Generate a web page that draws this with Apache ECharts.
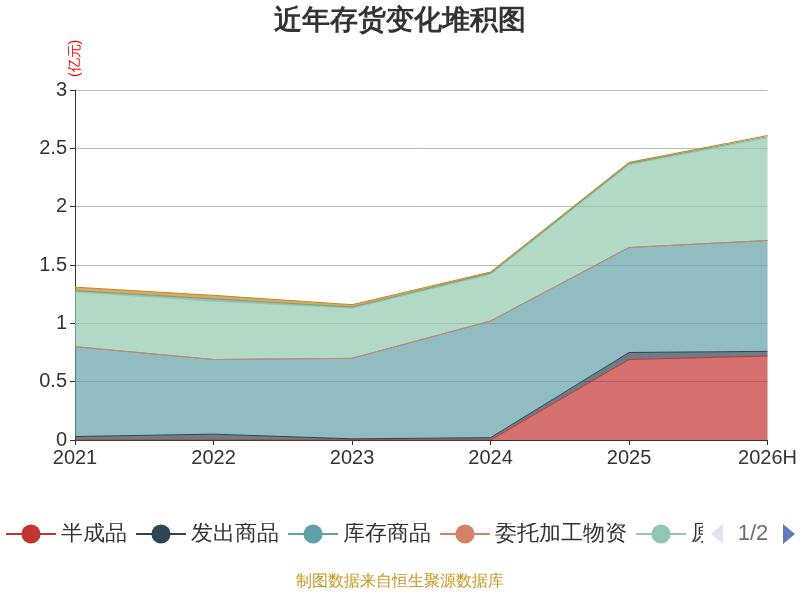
<!DOCTYPE html>
<html><head><meta charset="utf-8">
<script src="https://cdn.jsdelivr.net/npm/echarts@6/dist/echarts.min.js"></script>
<style>html,body{margin:0;padding:0}#main{width:800px;height:600px}</style>
</head><body><div id="main"></div>
<script>
var years = ['2021', '2022', '2023', '2024', '2025', '2026H'];
var seriesNames = ['半成品', '发出商品', '库存商品', '委托加工物资', '原材料', '在产品', '周转材料'];
var banChengPin = [0, 0, 0, 0, 0.69, 0.72];
var faChuShangPin = [0.03, 0.05, 0.01, 0.02, 0.06, 0.04];
var kuCunShangPin = [0.77, 0.64, 0.69, 1.0, 0.90, 0.95];
var weiTuoJiaGong = [0, 0, 0, 0, 0, 0];
var yuanCaiLiao = [0.47, 0.50, 0.43, 0.40, 0.71, 0.88];
var zaiChanPin = [0.01, 0.02, 0.01, 0.01, 0.01, 0.01];
var zhouZhuan = [0.03, 0.03, 0.02, 0.01, 0.01, 0.01];
var allData = [banChengPin, faChuShangPin, kuCunShangPin, weiTuoJiaGong, yuanCaiLiao, zaiChanPin, zhouZhuan];
var colors = ['#c23531', '#2f4554', '#61a0a8', '#d48265', '#91c7ae', '#749f83', '#ca8622'];

var myChart = echarts.init(document.getElementById('main'));
var series = [];
for (var i = 0; i < seriesNames.length; i++) {
    series.push({
        name: seriesNames[i],
        type: 'line',
        stack: 'total',
        symbol: 'none',
        data: allData[i],
        lineStyle: { width: 1 },
        areaStyle: { opacity: 0.7 }
    });
}
var option = {
    color: colors,
    title: {
        text: '近年存货变化堆积图',
        left: 'center',
        top: 2,
        textStyle: { fontSize: 28, fontWeight: 'bold', color: '#333' }
    },
    legend: {
        type: 'scroll',
        bottom: 50,
        left: 0,
        right: 0,
        itemWidth: 50,
        itemHeight: 24,
        textStyle: { fontSize: 22, color: '#333' },
        pageTextStyle: { fontSize: 22 },
        pageIconSize: 20,
        data: seriesNames
    },
    grid: { left: 75, right: 32, top: 90, bottom: 160 },
    xAxis: {
        type: 'category',
        boundaryGap: false,
        data: years,
        axisLabel: { fontSize: 20, color: '#333' },
        axisLine: { lineStyle: { color: '#333' } }
    },
    yAxis: {
        type: 'value',
        min: 0, max: 3, interval: 0.5,
        name: '(亿元)',
        nameLocation: 'end',
        nameRotate: 90,
        nameGap: 10,
        nameTextStyle: { color: 'red', fontSize: 14, padding: [0, 0, -70, 0] },
        axisLine: { show: true, lineStyle: { color: '#333' } },
        axisTick: { show: true },
        axisLabel: { fontSize: 20, color: '#333' },
        splitLine: { lineStyle: { color: '#bbb' } }
    },
    graphic: [{
        type: 'text', left: 'center', bottom: 10,
        style: { text: '制图数据来自恒生聚源数据库', fill: '#c8961e', fontSize: 16 }
    }],
    series: series
};
myChart.setOption(option);
</script></body></html>
